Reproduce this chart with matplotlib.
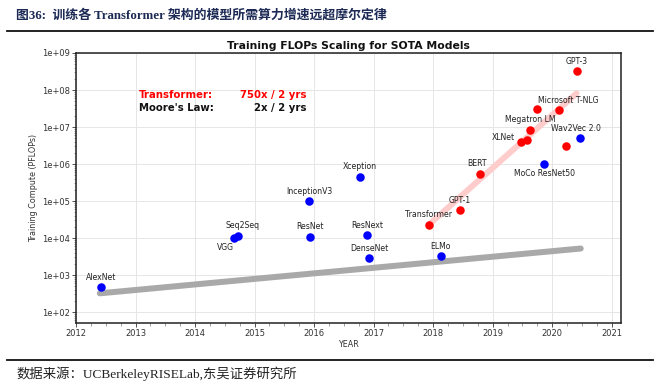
import matplotlib
matplotlib.use("Agg")
import matplotlib.pyplot as plt
import matplotlib.ticker as mticker
import numpy as np

# ---------------- data ----------------
blue_names = ["AlexNet", "VGG", "Seq2Seq", "InceptionV3", "ResNet", "Xception",
              "ResNext", "DenseNet", "ELMo", "MoCo ResNet50", "Wav2Vec 2.0"]
blue_years = [2012.42, 2014.66, 2014.72, 2015.92, 2015.94, 2016.77,
              2016.89, 2016.93, 2018.13, 2019.87, 2020.47]
blue_flops = [465, 1.0e4, 1.1e4, 1.0e5, 1.07e4, 4.5e5,
              1.2e4, 2.8e3, 3.2e3, 1.02e6, 5.1e6]

red_names = ["Transformer", "GPT-1", "BERT", "XLNet", "", "Megatron LM",
             "", "Microsoft T-NLG", "", "GPT-3"]
red_years = [2017.93, 2018.45, 2018.78, 2019.47, 2019.57, 2019.63,
             2019.74, 2020.12, 2020.23, 2020.41]
red_flops = [2.3e4, 5.7e4, 5.4e5, 4.0e6, 4.4e6, 8.3e6,
             3.1e7, 2.8e7, 3.1e6, 3.2e8]

transformer_trend_years = [2017.93, 2020.41]
transformer_trend_flops = [2.3e4, 8.1e7]
moore_trend_years = [2012.40, 2020.48]
moore_trend_flops = [320, 5.2e3]

x_ticks = list(range(2012, 2022))
y_ticks = [1e2, 1e3, 1e4, 1e5, 1e6, 1e7, 1e8, 1e9]

# label offsets in pixels (dx, dy) relative to the point, plus alignment
label_offsets = {
    "AlexNet": (0, 10, "center"), "VGG": (-9, -9.5, "center"),
    "Seq2Seq": (5, 10.5, "center"), "InceptionV3": (0, 10, "center"),
    "ResNet": (0, 10, "center"), "Xception": (0, 10, "center"),
    "ResNext": (0, 10, "center"), "DenseNet": (0, 10, "center"),
    "ELMo": (0, 10, "center"), "MoCo ResNet50": (0, -9.5, "center"),
    "Wav2Vec 2.0": (-4, 9.5, "center"), "Transformer": (0, 10, "center"),
    "GPT-1": (0, 10, "center"), "BERT": (-2.5, 10, "center"),
    "XLNet": (-6, 4, "right"), "Megatron LM": (0, 10, "center"),
    "Microsoft T-NLG": (9, 10, "center"), "GPT-3": (0, 9.5, "center"),
}

# ---------------- figure ----------------
DPI = 100
fig = plt.figure(figsize=(6.62, 3.89), dpi=DPI)
px = 72.0 / DPI

ax = fig.add_axes([76 / 662, 1 - 323 / 389, (621 - 76) / 662, (323 - 53) / 389])

ax.plot(moore_trend_years, moore_trend_flops, color="#a9a9a9", lw=6 * px,
        solid_capstyle="round", zorder=2)
ax.plot(transformer_trend_years, transformer_trend_flops, color="#ffcccc",
        lw=6 * px, solid_capstyle="round", zorder=2)

ax.scatter(blue_years, blue_flops, s=(8.5 * px) ** 2, color="#0000ff", zorder=3,
           linewidths=0)
ax.scatter(red_years, red_flops, s=(8.5 * px) ** 2, color="#ff0000", zorder=3,
           linewidths=0)

for names, xs, ys in ((blue_names, blue_years, blue_flops),
                      (red_names, red_years, red_flops)):
    for n, x, y in zip(names, xs, ys):
        if not n:
            continue
        dx, dy, ha = label_offsets[n]
        ax.annotate(n, (x, y), xytext=(dx * px, dy * px), textcoords="offset points",
                    ha=ha, va="center", fontsize=5.6, color="#222222", zorder=4)

ax.set_yscale("log")
ax.set_xlim(2012, 2021.157)
ax.set_ylim(10 ** 1.703, 1e9)
ax.set_xticks(x_ticks)
ax.xaxis.set_minor_locator(mticker.MultipleLocator(0.25))
ax.set_yticks(y_ticks)
ax.yaxis.set_major_formatter(mticker.FuncFormatter(lambda v, p: f"{v:.0e}"))
ax.yaxis.set_minor_locator(mticker.LogLocator(base=10, subs=np.arange(2, 10)))
ax.yaxis.set_minor_formatter(mticker.NullFormatter())
ax.tick_params(axis="both", which="major", labelsize=6, length=3, width=0.6,
               colors="#333333", pad=1.5)
ax.tick_params(axis="both", which="minor", length=1.8, width=0.4, colors="#555555")
ax.grid(True, which="major", color="#e6e6e6", lw=0.7, zorder=0)
for s in ax.spines.values():
    s.set_linewidth(1.1)
    s.set_color("#222222")

ax.set_xlabel("YEAR", fontsize=5.8, color="#333333", labelpad=1)
ax.set_ylabel("Training Compute (PFLOPs)", fontsize=5.8, color="#333333", labelpad=3)
ax.set_title("Training FLOPs Scaling for SOTA Models", fontsize=7.8,
             fontweight="bold", pad=3, color="#111111")

ax.text(139 / 662, 1 - 95 / 389, "Transformer:", transform=fig.transFigure,
        color="#ff0000", fontsize=7.3, fontweight="bold", va="center", ha="left")
ax.text(306 / 662, 1 - 95 / 389, "750x / 2 yrs", transform=fig.transFigure,
        color="#ff0000", fontsize=7.3, fontweight="bold", va="center", ha="right")
ax.text(139 / 662, 1 - 108 / 389, "Moore's Law:", transform=fig.transFigure,
        color="#111111", fontsize=7.3, fontweight="bold", va="center", ha="left")
ax.text(306 / 662, 1 - 108 / 389, "2x / 2 yrs", transform=fig.transFigure,
        color="#111111", fontsize=7.3, fontweight="bold", va="center", ha="right")

# ---------------- header & footer ----------------
fig.text(16 / 662, 1 - 15 / 389,
         "图36:  训练各 Transformer 架构的模型所需算力增速远超摩尔定律",
         family=["Liberation Serif", "Noto Sans CJK SC"], fontweight="bold",
         fontsize=9.3, color="#1c2a55", va="center", ha="left")
fig.add_artist(plt.Line2D([7 / 662, 653 / 662], [1 - 31 / 389, 1 - 31 / 389],
                          transform=fig.transFigure, color="#111111", lw=1.3))
fig.add_artist(plt.Line2D([7 / 662, 653 / 662], [1 - 360 / 389, 1 - 360 / 389],
                          transform=fig.transFigure, color="#111111", lw=1.3))
fig.text(17 / 662, 1 - 374 / 389, "数据来源：UCBerkeleyRISELab,东吴证券研究所",
         family=["Liberation Serif", "Noto Sans CJK SC"], fontsize=9.6,
         color="#222222", va="center", ha="left")

fig.savefig("out.png", dpi=DPI)
